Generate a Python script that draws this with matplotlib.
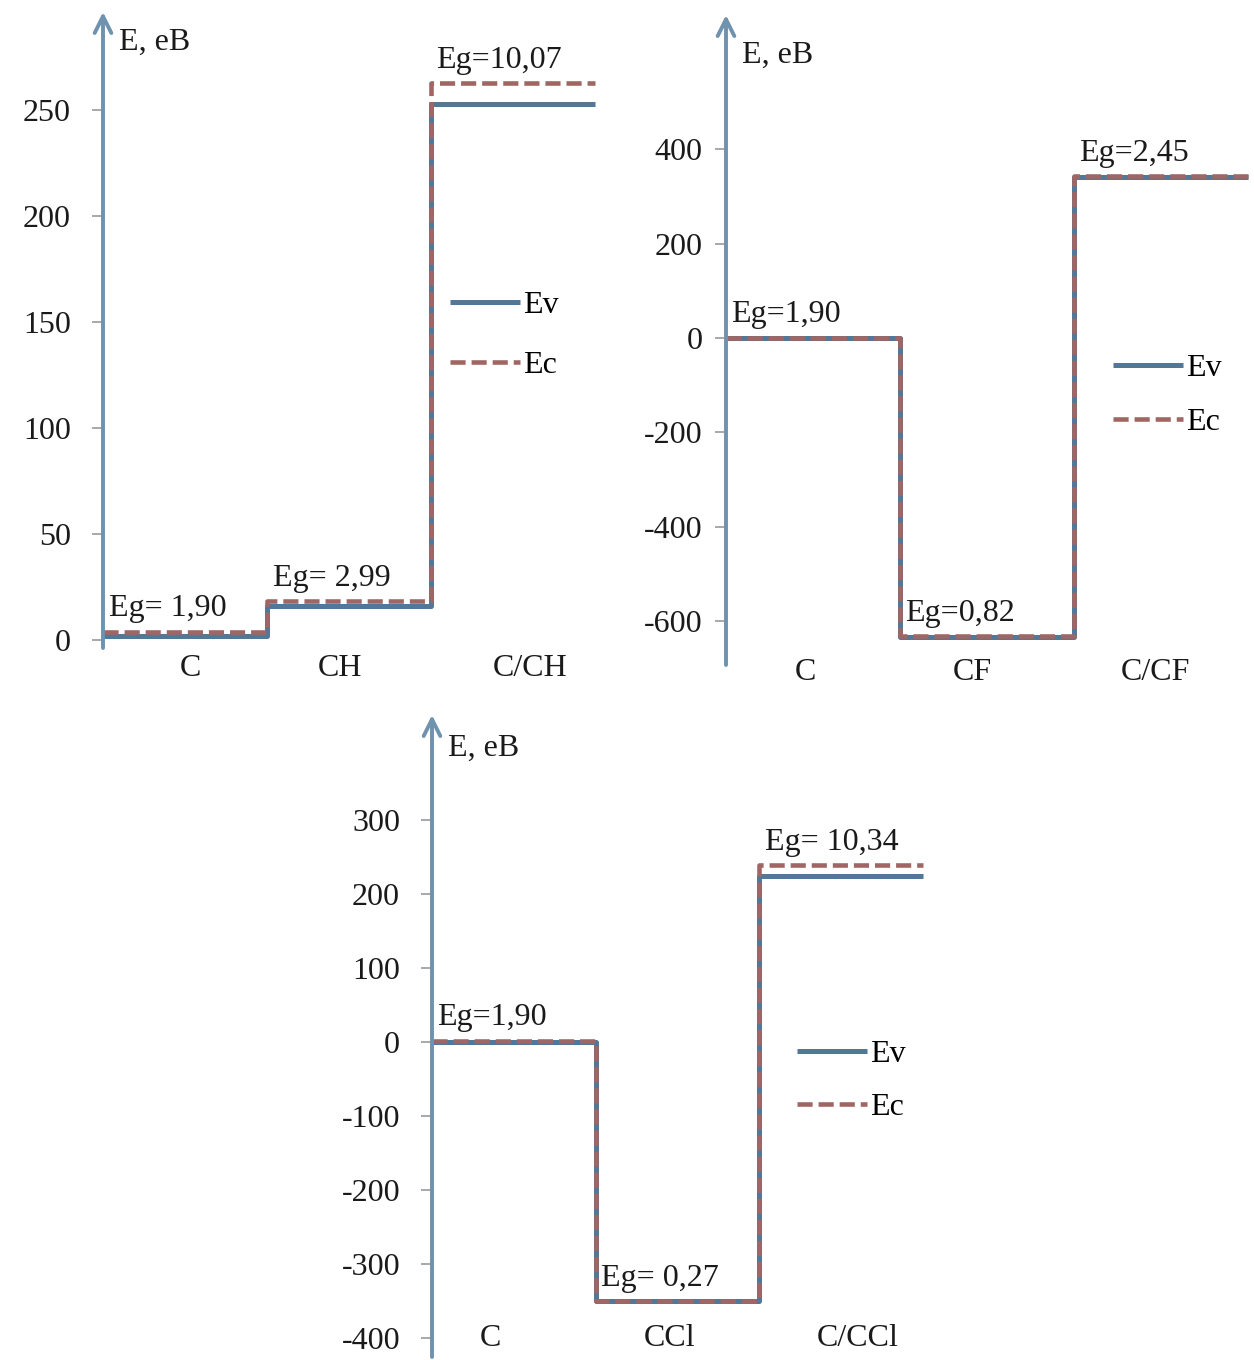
import matplotlib
matplotlib.use("Agg")
import matplotlib.pyplot as plt

plt.rcParams["font.family"] = ["Liberation Serif", "DejaVu Serif"]
plt.rcParams["axes.unicode_minus"] = False

W, H = 1254, 1360
FS = 23
AXIS_COL = "#6F92AE"
EV_COL = "#537797"
EC_COL = "#A06664"
TXT_COL = "#1a1a1a"

# ---- data ----
cats_ch = ["C", "CH", "C/CH"]
ev_ch = [2, 16, 252.8]
ec_ch = [3.9, 18.5, 262.5]
eg_ch = ["Eg= 1,90", "Eg= 2,99", "Eg=10,07"]
ticks_ch = [0, 50, 100, 150, 200, 250]

cats_cf = ["C", "CF", "C/CF"]
ev_cf = [-1, -633, 341]
ec_cf = [0.9, -632, 343]
eg_cf = ["Eg=1,90", "Eg=0,82", "Eg=2,45"]
ticks_cf = [-600, -400, -200, 0, 200, 400]

cats_ccl = ["C", "CCl", "C/CCl"]
ev_ccl = [0, -350, 224]
ec_ccl = [1.9, -349.7, 239]
eg_ccl = ["Eg=1,90", "Eg= 0,27", "Eg= 10,34"]
ticks_ccl = [-400, -300, -200, -100, 0, 100, 200, 300]


def fx(px):
    return px / W


def fy(py):
    return 1 - py / H


def steps(vals):
    xs, ys = [], []
    for i, v in enumerate(vals):
        xs += [i, i + 1]
        ys += [v, v]
    return xs, ys


def panel(fig, cats, ev, ec, eg, ticks, lay):
    x0, cat_px, y0, ppu, top, bot = lay["x0"], lay["cat"], lay["zero"], lay["ppu"], lay["top"], lay["bot"]
    n = len(cats)
    wpx = n * cat_px + 6
    ax = fig.add_axes([fx(x0), fy(bot), wpx / W, (bot - top) / H])
    ax.set_xlim(0, wpx / cat_px)
    ax.set_ylim((y0 - bot) / ppu, (y0 - top) / ppu)
    for s in ax.spines.values():
        s.set_visible(False)
    ax.patch.set_alpha(0)

    ax.annotate("", xy=(0, 1), xytext=(0, 0), xycoords="axes fraction",
                arrowprops=dict(arrowstyle="->", color=AXIS_COL, lw=2.8,
                                mutation_scale=30, shrinkA=0, shrinkB=0))
    ax.set_xticks([])
    ax.set_yticks(ticks)
    ax.tick_params(axis="y", direction="out", length=8, width=1.2, color="#9a9a9a",
                   pad=lay["pad"], labelsize=FS, labelcolor=TXT_COL)

    xs, ys = steps(ev)
    ax.plot(xs, ys, color=EV_COL, lw=3.6, solid_capstyle="butt", label="Ev")
    xs, ys = steps(ec)
    ax.plot(xs, ys, color=EC_COL, lw=3.3, dashes=(3.3, 1.3), label="Ec")

    for i, t in enumerate(eg):
        ax.annotate(t, xy=(i, ec[i]), xytext=(4, 11), textcoords="offset points",
                    fontsize=FS, color=TXT_COL, va="baseline", ha="left")

    for c, cx in zip(cats, lay["cat_x"]):
        fig.text(fx(cx), fy(lay["cat_y"]), c, fontsize=FS, color=TXT_COL,
                 ha="center", va="center")

    fig.text(fx(x0 + 16), fy(lay["lab_y"]), "E, eB", fontsize=FS, color=TXT_COL,
             ha="left", va="center")

    ax.legend(loc="upper left", bbox_to_anchor=(fx(lay["leg_x"]), fy(lay["leg_y"])),
              bbox_transform=fig.transFigure, frameon=False, fontsize=FS,
              handlelength=2.2, handletextpad=0.1, labelspacing=lay["leg_sp"],
              borderpad=0, borderaxespad=0)
    return ax


fig = plt.figure(figsize=(W / 100, H / 100), dpi=100)

panel(fig, cats_ch, ev_ch, ec_ch, eg_ch, ticks_ch,
      dict(x0=103, cat=164, zero=640, ppu=2.12, top=12, bot=648, pad=15,
           cat_x=[190, 340, 530], cat_y=668, lab_y=42,
           leg_x=450, leg_y=291, leg_sp=0.95))

panel(fig, cats_cf, ev_cf, ec_cf, eg_cf, ticks_cf,
      dict(x0=726, cat=174, zero=338, ppu=0.4717, top=15, bot=665, pad=9,
           cat_x=[805, 972, 1155], cat_y=673, lab_y=55,
           leg_x=1113, leg_y=354, leg_sp=0.76))

panel(fig, cats_ccl, ev_ccl, ec_ccl, eg_ccl, ticks_ccl,
      dict(x0=432, cat=163.7, zero=1042, ppu=0.74, top=715, bot=1357, pad=15,
           cat_x=[490, 670, 858], cat_y=1338, lab_y=748,
           leg_x=797, leg_y=1040, leg_sp=0.73))

fig.savefig("out.png", dpi=100, facecolor="white")
